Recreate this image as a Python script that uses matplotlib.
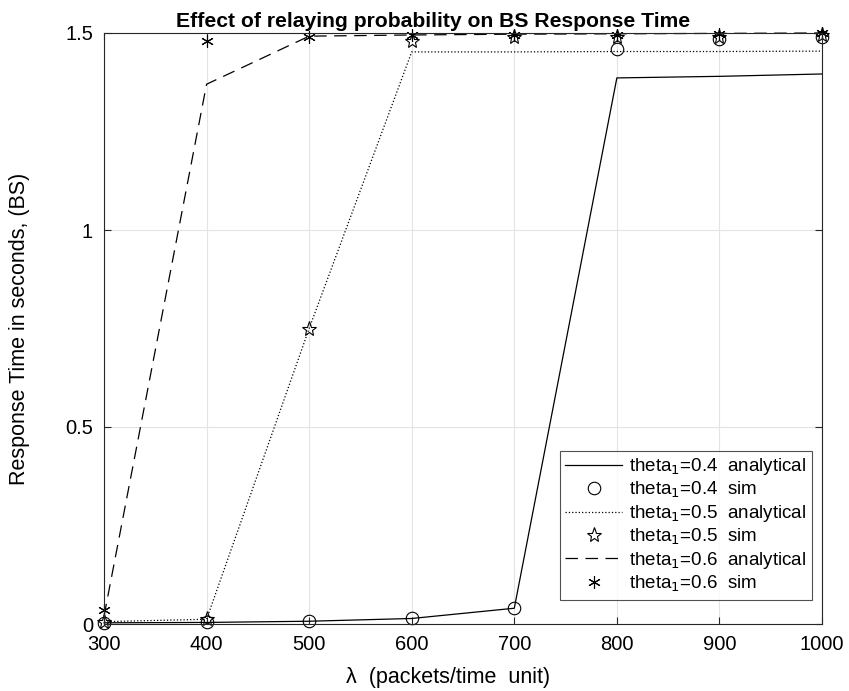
import matplotlib
matplotlib.use("Agg")
import matplotlib.pyplot as plt

plt.rcParams['font.family'] = ['Liberation Sans', 'DejaVu Sans']

lam = [300, 400, 500, 600, 700, 800, 900, 1000]

t04_analytical = [0.003, 0.004, 0.007, 0.014, 0.04, 1.386, 1.39, 1.396]
t04_sim        = [0.003, 0.004, 0.008, 0.015, 0.04, 1.459, 1.485, 1.49]
t05_analytical = [0.006, 0.012, 0.75, 1.452, 1.452, 1.453, 1.453, 1.454]
t05_sim        = [0.006, 0.012, 0.75, 1.48, 1.49, 1.49, 1.49, 1.495]
t06_analytical = [0.02, 1.37, 1.492, 1.495, 1.497, 1.498, 1.499, 1.5]
t06_sim        = [0.035, 1.48, 1.49, 1.495, 1.495, 1.495, 1.498, 1.5]

labels = [r'theta$_1$=0.4  analytical', r'theta$_1$=0.4  sim',
          r'theta$_1$=0.5  analytical', r'theta$_1$=0.5  sim',
          r'theta$_1$=0.6  analytical', r'theta$_1$=0.6  sim']

fig = plt.figure(figsize=(8.49, 6.91), dpi=100)
ax = fig.add_axes([104/849, 1-624/691, (822-104)/849, (624-33)/691])

lw = 0.9
ax.plot(lam, t04_analytical, '-', color='k', lw=lw, label=labels[0], clip_on=False)
ax.plot(lam, t04_sim, ls='none', marker='o', mfc='none', mec='k', ms=9, mew=0.8,
        label=labels[1], clip_on=False)
ax.plot(lam, t05_analytical, ':', color='k', lw=lw, label=labels[2], clip_on=False)
ax.plot(lam, t05_sim, ls='none', marker='*', mfc='none', mec='k', ms=11, mew=0.8,
        label=labels[3], clip_on=False)
ax.plot(lam, t06_analytical, '--', color='k', lw=lw, dashes=(10, 6), label=labels[4], clip_on=False)
ax.plot(lam, t06_sim, ls='none', marker=(6, 2, 0), color='k', ms=9, mew=0.8,
        label=labels[5], clip_on=False)

ax.set_xlim(300, 1000)
ax.set_ylim(0, 1.5)
ax.set_xticks(lam)
ax.set_yticks([0, 0.5, 1, 1.5])
ax.set_yticklabels(['0', '0.5', '1', '1.5'])
ax.grid(True, color='#e3e3e3', lw=0.8)
ax.set_axisbelow(True)
ax.tick_params(direction='in', top=True, right=True, labelsize=14.5, length=5,
               color='#262626', pad=8)
for s in ax.spines.values():
    s.set_color('#262626')
    s.set_linewidth(0.8)

ax.set_xlabel('λ  (packets/time  unit)', fontsize=15.5)
ax.xaxis.set_label_coords((448-104)/718, -(667-624)/591)
ax.set_ylabel('Response Time in seconds, (BS)', fontsize=15.5)
ax.yaxis.set_label_coords(-(104-30)/718, 0.5)
ax.set_title('Effect of relaying probability on BS Response Time', fontsize=15.2,
             fontweight='bold', x=(433-104)/718, y=1.0, pad=4)

leg = ax.legend(loc='lower right', fontsize=13.5, frameon=True, fancybox=False,
                edgecolor='#262626', handlelength=3.0, handletextpad=0.4,
                borderpad=0.3, labelspacing=0.15, borderaxespad=0,
                bbox_to_anchor=(0.986, 0.041))
leg.get_frame().set_linewidth(0.8)

fig.savefig('out.png', dpi=100)
